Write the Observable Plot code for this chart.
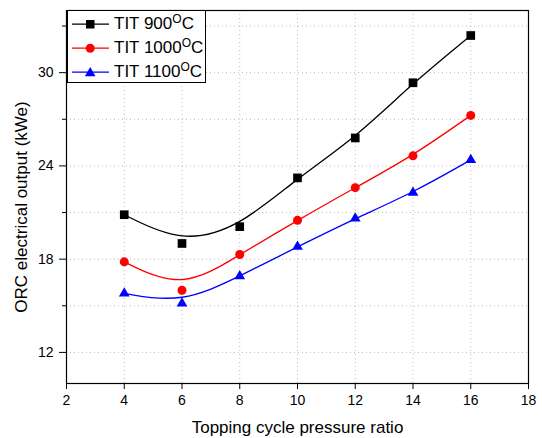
<!DOCTYPE html>
<html><head><meta charset="utf-8">
<script src="https://cdn.jsdelivr.net/npm/d3@7"></script>
<script src="https://cdn.jsdelivr.net/npm/@observablehq/plot@0.6"></script>
<style>
body{margin:0;background:#fff;font-family:"Liberation Sans",Arial,sans-serif;}
#wrap{position:relative;width:542px;height:438px;}
#legend{position:absolute;left:67px;top:10px;width:139px;height:73px;border:1px solid #000;background:#fff;box-sizing:border-box;font-size:17px;}
.row{position:absolute;left:0;height:24px;display:flex;align-items:center;}
.row svg{margin-left:4px;}
.row span{margin-left:5px;color:#000;white-space:nowrap;}
sup{font-size:12px;vertical-align:6px;line-height:0}
[aria-label="x-axis label"] text, [aria-label="y-axis label"] text{font-size:17px;}
[aria-label="x-axis tick label"] text, [aria-label="y-axis tick label"] text{font-size:14px;}
</style></head><body>
<div id="wrap"></div>
<script>
const pressureRatio = [4, 6, 8, 10, 12, 14, 16];
const tit900 = [20.86, 19.01, 20.09, 23.23, 25.8, 29.35, 32.39];
const tit1000 = [17.83, 16.0, 18.3, 20.5, 22.6, 24.65, 27.25];
const tit1100 = [15.8, 15.15, 16.9, 18.8, 20.62, 22.28, 24.39];
const seriesNames = ["TIT 900", "TIT 1000", "TIT 1100"];
const seriesColors = ["#000000", "#ff0000", "#0000ff"];
const seriesSymbols = ["square", "circle", "triangle"];
const yMajor = [12, 18, 24, 30];
const yMinor = [15, 21, 27, 33];
const xTicks = [2, 4, 6, 8, 10, 12, 14, 16, 18];

const allSeries = [tit900, tit1000, tit1100];
const rows = [];
allSeries.forEach((vals, i) => vals.forEach((v, j) => rows.push({x: pressureRatio[j], y: v, s: seriesNames[i]})));

const marks = [
  Plot.gridY(d3.range(12, 34, 3), {stroke: "#bbb", strokeOpacity: 1, strokeDasharray: "1,3"}),
  Plot.gridX(xTicks.slice(1, -1), {stroke: "#bbb", strokeOpacity: 1, strokeDasharray: "1,3"}),
];
seriesNames.forEach((name, i) => {
  const d = rows.filter(r => r.s === name);
  marks.push(Plot.line(d, {x: "x", y: "y", curve: "basis", stroke: seriesColors[i], strokeWidth: 1.3}));
  marks.push(Plot.dot(d, {x: "x", y: "y", symbol: () => seriesSymbols[i], fill: seriesColors[i], stroke: "none",
    r: seriesSymbols[i] === "square" ? 4.9 : seriesSymbols[i] === "circle" ? 4.5 : 4.0}));
});
marks.push(
  Plot.axisX({ticks: xTicks, tickSize: 6, tickPadding: 6, label: "Topping cycle pressure ratio", labelAnchor: "center", labelArrow: "none", labelOffset: 49}),
  Plot.axisY({ticks: yMajor, tickSize: 7, tickPadding: 6, label: "ORC electrical output (kWe)", labelAnchor: "center", labelArrow: "none", labelOffset: 52}),
  Plot.axisY({ticks: yMinor, tickSize: 4, tickFormat: () => "", label: null}),
  Plot.frame({stroke: "#000", strokeWidth: 1.2})
);

const chart = Plot.plot({
  width: 542, height: 438,
  marginLeft: 66, marginRight: 14, marginTop: 10, marginBottom: 55,
  x: {domain: [2, 18]},
  y: {domain: [10, 34]},
  style: {fontFamily: "'Liberation Sans', Arial, sans-serif", color: "#000", background: "#fff"},
  marks
});
// the reference centres the y title slightly below the frame centre
chart.querySelectorAll('[aria-label="y-axis label"] text').forEach(t => t.setAttribute("dx", "-10"));
document.getElementById("wrap").appendChild(chart);

// legend
const leg = document.createElement("div");
leg.id = "legend";
seriesNames.forEach((name, i) => {
  const row = document.createElement("div");
  row.className = "row";
  row.style.top = (1 + i * 24) + "px";
  const sym = seriesSymbols[i], c = seriesColors[i];
  let shape = sym === "square" ? `<rect x="14" y="8" width="8.5" height="8.5" fill="${c}"/>`
    : sym === "circle" ? `<circle cx="18.2" cy="12.2" r="4.5" fill="${c}"/>`
    : `<path d="M18.2,7 L23.5,16.3 L12.9,16.3 Z" fill="${c}"/>`;
  row.innerHTML = `<svg width="37" height="24"><line x1="0" x2="37" y1="12.2" y2="12.2" stroke="${c}" stroke-width="1.3"/>${shape}</svg><span>${name}<sup>O</sup>C</span>`;
  leg.appendChild(row);
});
document.getElementById("wrap").appendChild(leg);
</script>
</body></html>
